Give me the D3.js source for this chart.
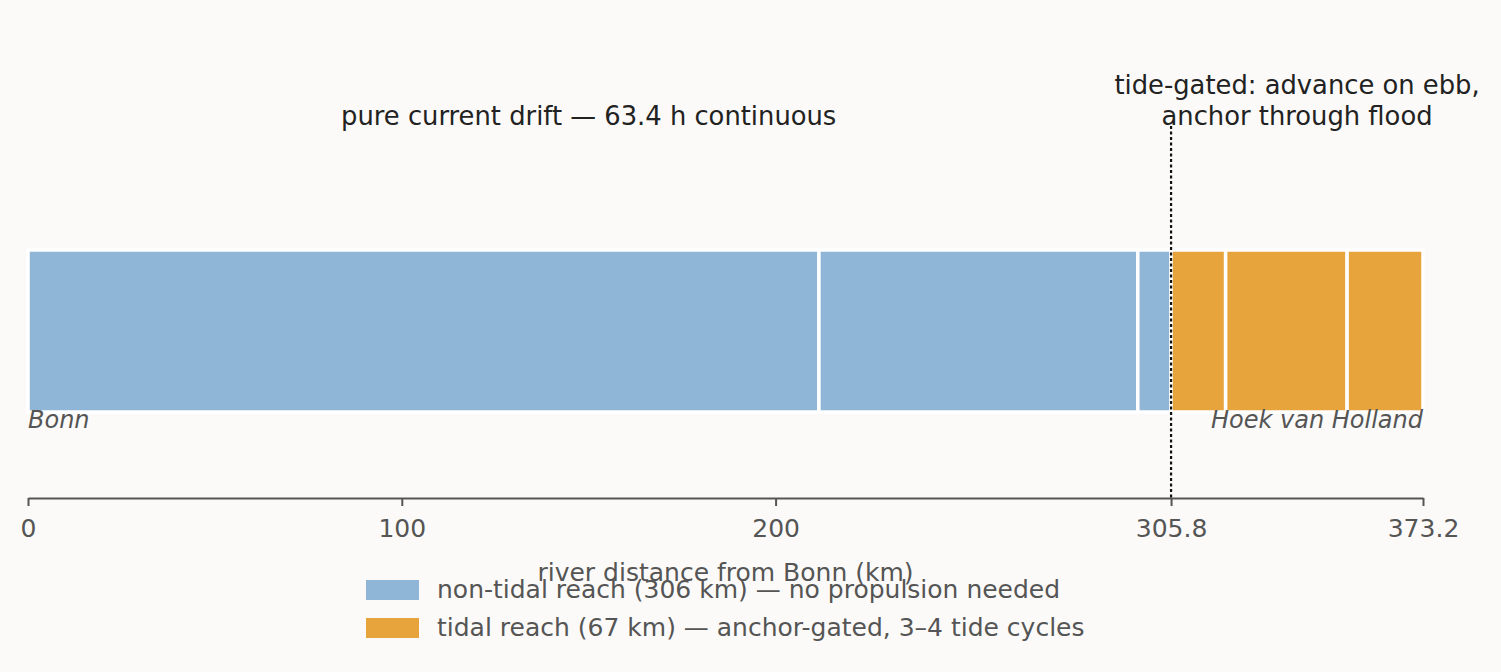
<!DOCTYPE html>
<html>
<head>
<meta charset="utf-8">
<script src="https://cdn.jsdelivr.net/npm/d3@7"></script>
<style>
  body { margin: 0; background: #fbfaf8; }
  svg text { font-family: "DejaVu Sans", "Verdana", sans-serif !important; }
</style>
</head>
<body>
<div id="chart"></div>
<script>
// segment data (km from Bonn)
const segStart = [0, 211.6, 296.9, 305.8, 320.4, 352.9];
const segEnd   = [211.6, 296.9, 305.8, 320.4, 352.9, 373.2];
const segReach = ["non-tidal", "non-tidal", "non-tidal", "tidal", "tidal", "tidal"];

const tickValues = [0, 100, 200, 305.8, 373.2];
const tickLabels = ["0", "100", "200", "305.8", "373.2"];

const tidalStart = 305.8;
const totalKm = 373.2;

const legendKeys = ["non-tidal", "tidal"];
const legendLabels = [
  "non-tidal reach (306 km) — no propulsion needed",
  "tidal reach (67 km) — anchor-gated, 3–4 tide cycles"
];

const width = 1501, height = 672;
const margin = { left: 28, right: 78 };

const svg = d3.select("#chart")
  .append("svg")
  .attr("width", width)
  .attr("height", height);

svg.append("rect")
  .attr("width", width)
  .attr("height", height)
  .attr("fill", "#fbfaf8");

const x = d3.scaleLinear()
  .domain([0, totalKm])
  .range([margin.left, width - margin.right]);

const colorScale = d3.scaleOrdinal()
  .domain(legendKeys)
  .range(["#8fb6d7", "#e8a43c"]);

// Bars
const barTop = 250, barH = 162;
svg.selectAll("rect.seg")
  .data(segStart.map((s, i) => ({ s, e: segEnd[i], reach: segReach[i] })))
  .join("rect")
    .attr("class", "seg")
    .attr("x", d => x(d.s))
    .attr("y", barTop)
    .attr("width", d => x(d.e) - x(d.s))
    .attr("height", barH)
    .attr("fill", d => colorScale(d.reach))
    .attr("stroke", "white")
    .attr("stroke-width", 3.5);

// Axis
const axisY = 498;
const bottomAxis = d3.axisBottom(x)
  .tickValues(tickValues)
  .tickFormat((d, i) => tickLabels[i])
  .tickSize(8)
  .tickSizeOuter(0)
  .tickPadding(13);

const axisG = svg.append("g")
  .attr("transform", `translate(0, ${axisY})`)
  .call(bottomAxis)
  .attr("font-family", null);
axisG.selectAll("path, line").attr("stroke", "#555").attr("stroke-width", 2);
axisG.selectAll("text").attr("font-size", 25).attr("fill", "#555");

// Tidal boundary dotted line
svg.append("line")
  .attr("x1", x(tidalStart)).attr("x2", x(tidalStart))
  .attr("y1", 126).attr("y2", axisY)
  .attr("stroke", "#111")
  .attr("stroke-width", 2.2)
  .attr("stroke-dasharray", "3,2.5");

// End labels
svg.append("text")
  .text("Bonn")
  .attr("x", x(0))
  .attr("y", 428)
  .attr("font-size", 24)
  .attr("font-style", "italic")
  .attr("fill", "#555");

svg.append("text")
  .text("Hoek van Holland")
  .attr("x", x(totalKm))
  .attr("y", 428)
  .attr("text-anchor", "end")
  .attr("font-size", 24)
  .attr("font-style", "italic")
  .attr("fill", "#555");

// Annotations
svg.append("text")
  .text("pure current drift — 63.4 h continuous")
  .attr("x", x(150))
  .attr("y", 125)
  .attr("text-anchor", "middle")
  .attr("font-size", 25.8)
  .attr("fill", "#222");

const ann2 = svg.append("text")
  .attr("x", x((tidalStart + totalKm) / 2))
  .attr("y", 94)
  .attr("text-anchor", "middle")
  .attr("font-size", 25.8)
  .attr("fill", "#222");
ann2.append("tspan").text("tide-gated: advance on ebb,");
ann2.append("tspan")
  .attr("x", x((tidalStart + totalKm) / 2))
  .attr("dy", 31)
  .text("anchor through flood");

// Axis label
svg.append("text")
  .text("river distance from Bonn (km)")
  .attr("x", (x(0) + x(totalKm)) / 2)
  .attr("y", 581)
  .attr("text-anchor", "middle")
  .attr("font-size", 25)
  .attr("fill", "#555");

// Legend
const legend = svg.append("g")
  .attr("transform", "translate(366, 580)");

legendKeys.forEach((k, i) => {
  const g = legend.append("g").attr("transform", `translate(0, ${i * 38})`);
  g.append("rect")
    .attr("width", 53)
    .attr("height", 20)
    .attr("fill", colorScale(k));
  g.append("text")
    .attr("x", 71)
    .attr("y", 18)
    .attr("font-size", 25)
    .attr("fill", "#555")
    .text(legendLabels[i]);
});
</script>
</body>
</html>
